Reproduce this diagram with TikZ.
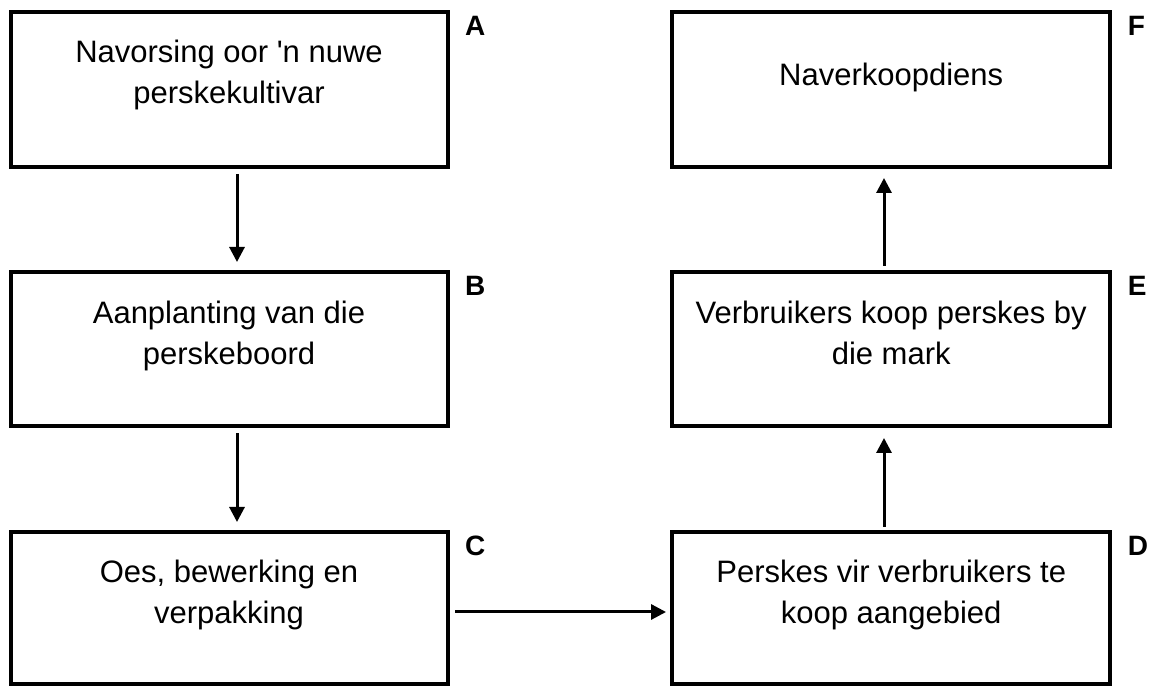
\documentclass[tikz,border=0pt]{standalone}
\usepackage{fontspec}
\setmainfont{Liberation Sans}
\usetikzlibrary{arrows.meta}
\begin{document}
\begin{tikzpicture}[x=1pt,y=1pt,
  box/.style={draw=black, line width=4pt, rectangle, inner sep=0pt},
  txt/.style={anchor=north, inner sep=0pt, align=center, font=\fontsize{31}{41}\selectfont},
  lab/.style={anchor=base west, inner sep=0pt, font=\fontsize{28}{32}\selectfont\bfseries},
  arr/.style={line width=3pt, -{Triangle[length=15pt,width=15pt]}}]
\useasboundingbox (0,0) rectangle (1151,687);
% boxes
\node[box, minimum width=437pt, minimum height=154.5pt] (A) at (229,597.25) {};
\node[box, minimum width=437pt, minimum height=154pt] (B) at (229,337.5) {};
\node[box, minimum width=437pt, minimum height=152pt] (C) at (229,79) {};
\node[box, minimum width=437.7pt, minimum height=152pt] (D) at (891.2,79) {};
\node[box, minimum width=437.7pt, minimum height=154pt] (E) at (891.2,337.5) {};
\node[box, minimum width=437.7pt, minimum height=154.5pt] (F) at (891.2,597.25) {};
% texts
\node[txt] (tA) at ([yshift=-29pt]A.north) {Navorsing oor \textquotesingle n nuwe\\perskekultivar};
\node[txt] (tB) at ([yshift=-30pt]B.north) {Aanplanting van die\\perskeboord};
\node[txt] (tC) at ([yshift=-30pt]C.north) {Oes, bewerking en\\verpakking};
\node[txt] (tD) at ([yshift=-30pt]D.north) {Perskes vir verbruikers te\\koop aangebied};
\node[txt] (tE) at ([yshift=-30pt]E.north) {Verbruikers koop perskes by\\die mark};
\node[txt] (tF) at ([yshift=-52pt]F.north) {Naverkoopdiens};
% letters
\node[lab] (lA) at ([xshift=15.5pt,yshift=-25.5pt]A.north east) {A};
\node[lab] (lB) at ([xshift=15.5pt,yshift=-25.5pt]B.north east) {B};
\node[lab] (lC) at ([xshift=15.5pt,yshift=-25.5pt]C.north east) {C};
\node[lab] (lD) at ([xshift=15.5pt,yshift=-25.5pt]D.north east) {D};
\node[lab] (lE) at ([xshift=15.5pt,yshift=-25.5pt]E.north east) {E};
\node[lab] (lF) at ([xshift=15.5pt,yshift=-25.5pt]F.north east) {F};
% arrows
\draw[arr] ([xshift=8pt,yshift=-5pt]A.south) -- ([xshift=8pt,yshift=8.5pt]B.north);
\draw[arr] ([xshift=8pt,yshift=-5pt]B.south) -- ([xshift=8pt,yshift=8pt]C.north);
\draw[arr] ([xshift=5.5pt,yshift=-4pt]C.east) -- ([xshift=-4.3pt,yshift=-4pt]D.west);
\draw[arr] ([xshift=-7.2pt,yshift=3pt]D.north) -- ([xshift=-7.2pt,yshift=-9.5pt]E.south);
\draw[arr] ([xshift=-7.2pt,yshift=4.5pt]E.north) -- ([xshift=-7.2pt,yshift=-9pt]F.south);
\end{tikzpicture}
\end{document}
